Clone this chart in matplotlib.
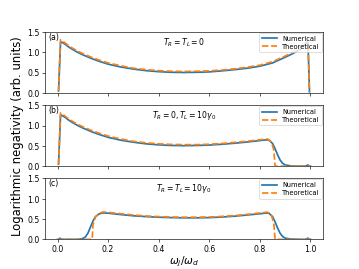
import matplotlib
matplotlib.use('Agg')
import matplotlib.pyplot as plt

# panel (a): T_R = T_L = 0
xa_num = [0.004, 0.012, 0.02, 0.03, 0.045, 0.06, 0.08, 0.1, 0.13, 0.16, 0.2, 0.25,
          0.3, 0.35, 0.4, 0.45, 0.5, 0.55, 0.6, 0.65, 0.7, 0.75, 0.8, 0.85, 0.9,
          0.93, 0.96, 0.975, 0.985, 0.99, 0.996]
ya_num = [0.05, 1.26, 1.24, 1.2, 1.13, 1.07, 1.0, 0.94, 0.86, 0.79, 0.71, 0.64,
          0.59, 0.55, 0.525, 0.51, 0.505, 0.51, 0.52, 0.545, 0.575, 0.61, 0.66, 0.74, 0.88,
          0.97, 1.08, 1.17, 1.25, 1.28, 0.03]
xa_th = [0.004, 0.012, 0.02, 0.03, 0.045, 0.06, 0.08, 0.1, 0.13, 0.16, 0.2, 0.25,
         0.3, 0.35, 0.4, 0.45, 0.5, 0.55, 0.6, 0.65, 0.7, 0.75, 0.8, 0.85, 0.9,
         0.93, 0.96, 0.975, 0.985, 0.99, 0.996]
ya_th = [0.05, 1.31, 1.28, 1.23, 1.16, 1.1, 1.03, 0.97, 0.89, 0.82, 0.74, 0.67,
         0.61, 0.575, 0.55, 0.535, 0.53, 0.535, 0.545, 0.565, 0.595, 0.635, 0.685, 0.77, 0.91,
         1.0, 1.11, 1.2, 1.28, 1.3, 0.03]

# panel (b): T_R = 0, T_L = 10 gamma_0
xb_num = [0.004, 0.012, 0.02, 0.03, 0.045, 0.06, 0.08, 0.1, 0.13, 0.16, 0.2, 0.25,
          0.3, 0.35, 0.4, 0.45, 0.5, 0.55, 0.6, 0.65, 0.7, 0.75, 0.8, 0.82, 0.835,
          0.85, 0.86, 0.87, 0.88, 0.89, 0.9, 0.92, 0.95, 0.98, 0.99, 0.995, 1.0]
yb_num = [0.05, 1.26, 1.24, 1.2, 1.13, 1.07, 1.0, 0.94, 0.86, 0.79, 0.71, 0.64,
          0.59, 0.55, 0.525, 0.51, 0.505, 0.51, 0.52, 0.54, 0.565, 0.595, 0.63, 0.645, 0.645,
          0.56, 0.43, 0.28, 0.15, 0.07, 0.03, 0.01, 0.0, 0.0, 0.03, 0.0, 0.0]
xb_th = [0.004, 0.012, 0.02, 0.03, 0.045, 0.06, 0.08, 0.1, 0.13, 0.16, 0.2, 0.25,
         0.3, 0.35, 0.4, 0.45, 0.5, 0.55, 0.6, 0.65, 0.7, 0.75, 0.8, 0.83, 0.845,
         0.855, 0.86, 0.9, 1.0]
yb_th = [0.05, 1.31, 1.28, 1.23, 1.16, 1.1, 1.03, 0.97, 0.89, 0.82, 0.74, 0.67,
         0.61, 0.575, 0.55, 0.535, 0.53, 0.53, 0.54, 0.56, 0.585, 0.615, 0.65, 0.67, 0.6,
         0.4, 0.0, 0.0, 0.0]

# panel (c): T_R = T_L = 10 gamma_0
xc_num = [0.0, 0.005, 0.01, 0.015, 0.05, 0.08, 0.1, 0.11, 0.12, 0.13, 0.14, 0.15,
          0.165, 0.18, 0.2, 0.25, 0.3, 0.35, 0.4, 0.45, 0.5, 0.55, 0.6, 0.65, 0.7,
          0.75, 0.8, 0.82, 0.835, 0.85, 0.86, 0.87, 0.88, 0.89, 0.9, 0.92, 0.95,
          0.98, 0.99, 0.995, 1.0]
yc_num = [0.0, 0.0, 0.03, 0.0, 0.0, 0.0, 0.02, 0.06, 0.15, 0.3, 0.45, 0.56,
          0.63, 0.65, 0.645, 0.61, 0.58, 0.56, 0.545, 0.535, 0.53, 0.53, 0.535, 0.55, 0.57,
          0.6, 0.63, 0.645, 0.645, 0.56, 0.43, 0.28, 0.15, 0.07, 0.03, 0.01, 0.0,
          0.0, 0.03, 0.0, 0.0]
xc_th = [0.0, 0.137, 0.14, 0.15, 0.165, 0.18, 0.2, 0.25, 0.3, 0.35, 0.4, 0.45, 0.5,
         0.55, 0.6, 0.65, 0.7, 0.75, 0.8, 0.83, 0.845, 0.855, 0.86, 0.9, 1.0]
yc_th = [0.0, 0.0, 0.35, 0.55, 0.64, 0.675, 0.665, 0.63, 0.6, 0.575, 0.56, 0.55, 0.545,
         0.545, 0.55, 0.565, 0.585, 0.615, 0.65, 0.67, 0.6, 0.4, 0.0, 0.0, 0.0]

panels = [
    ('(a)', r'$T_R = T_L = 0$', xa_num, ya_num, xa_th, ya_th),
    ('(b)', r'$T_R = 0, T_L = 10\gamma_0$', xb_num, yb_num, xb_th, yb_th),
    ('(c)', r'$T_R = T_L = 10\gamma_0$', xc_num, yc_num, xc_th, yc_th),
]

fig, axes = plt.subplots(3, 1, sharex=True, figsize=(6.4, 4.8), dpi=56.1)

for ax, (tag, title, xn, yn, xt, yt) in zip(axes, panels):
    ax.plot(xn, yn, color='tab:blue', lw=2.2, label='Numerical')
    ax.plot(xt, yt, color='tab:orange', lw=2.2, ls='--', label='Theoretical')
    ax.set_ylim(0, 1.5)
    ax.set_yticks([0.0, 0.5, 1.0, 1.5])
    ax.text(0.012, 0.92, tag, transform=ax.transAxes, fontsize=10, va='center')
    ax.text(0.5, 1.25, title, fontsize=10, ha='center', va='center')
    ax.legend(loc='upper right', fontsize=8.5, borderaxespad=0.15,
              handlelength=2.2, labelspacing=0.3)

axes[1].set_ylabel('Logarithmic negativity (arb. units)', fontsize=15)
axes[2].set_xlabel(r'$\omega_j/\omega_d$', fontsize=13.5, labelpad=1)
axes[2].set_xticks([0.0, 0.2, 0.4, 0.6, 0.8, 1.0])

plt.savefig('out.png', dpi=56.1)
plt.close()
